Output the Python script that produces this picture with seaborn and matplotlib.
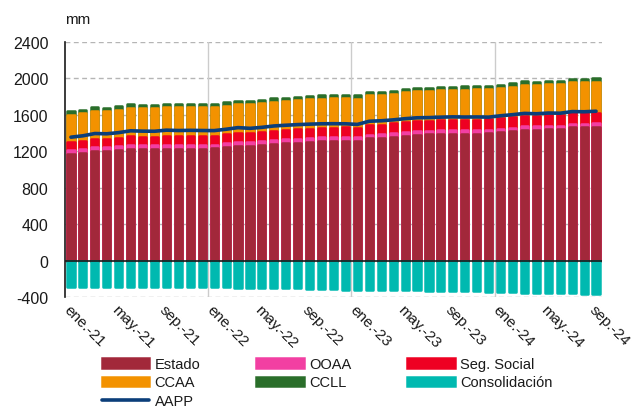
import numpy as np
import pandas as pd
import matplotlib
matplotlib.use("Agg")
import matplotlib.pyplot as plt
from matplotlib.patches import Patch
from matplotlib.lines import Line2D
import seaborn as sns

# ---------------- data (mm = miles de millones) ----------------
meses = ["ene.", "feb.", "mar.", "abr.", "may.", "jun.",
         "jul.", "ago.", "sep.", "oct.", "nov.", "dic."]
periodos = [f"{m}-{a}" for a in ["21", "22", "23"] for m in meses] + \
           [f"{m}-24" for m in meses[:9]]

estado = [1168, 1181, 1201, 1200, 1210, 1226, 1223, 1220, 1229, 1228, 1229, 1229,
          1231, 1244, 1260, 1255, 1266, 1279, 1288, 1294, 1299, 1309, 1312, 1317,
          1312, 1344, 1345, 1357, 1370, 1380, 1385, 1389, 1391, 1394, 1394, 1397,
          1411, 1423, 1436, 1437, 1444, 1442, 1464, 1463, 1468]
ooaa = [45] * 12 + [43] * 12 + [40] * 12 + [38] * 9
seg_social = [85, 86, 88, 89, 90, 92, 93, 93, 95, 96, 97, 97,
              97, 98, 99, 100, 101, 102, 103, 104, 104, 105, 106, 106,
              106, 107, 108, 109, 110, 110, 111, 111, 112, 112, 113, 113,
              113, 114, 115, 115, 116, 116, 117, 117, 118]
ccaa = [305, 306, 310, 308, 310, 315, 312, 314, 316, 313, 315, 312,
        312, 315, 318, 316, 318, 322, 320, 322, 324, 321, 322, 318,
        320, 322, 326, 325, 328, 330, 328, 330, 332, 330, 332, 330,
        332, 335, 340, 338, 340, 342, 340, 340, 342]
ccll = [38] * 12 + [36] * 12 + [36] * 12 + [38] * 9
consolidacion = [-286, -286, -287, -288, -288, -291, -290, -290, -291, -292, -294, -293,
                 -292, -294, -296, -298, -301, -304, -304, -306, -308, -312, -316, -318,
                 -319, -319, -320, -322, -326, -328, -330, -331, -333, -336, -338, -341,
                 -342, -346, -351, -354, -356, -358, -361, -362, -364]
aapp = [1355, 1370, 1395, 1392, 1405, 1425, 1421, 1420, 1432, 1428, 1430, 1428,
        1427, 1442, 1460, 1452, 1463, 1478, 1486, 1493, 1498, 1502, 1503, 1502,
        1495, 1530, 1535, 1545, 1558, 1568, 1570, 1575, 1578, 1576, 1577, 1575,
        1590, 1602, 1616, 1612, 1620, 1618, 1636, 1634, 1640]

yticks = [-400, 0, 400, 800, 1200, 1600, 2000, 2400]

colores = {
    "Estado": "#A2283A",
    "OOAA": "#F23FA2",
    "Seg. Social": "#EE0022",
    "CCAA": "#F39200",
    "CCLL": "#2A6E2A",
    "Consolidación": "#00B9B0",
    "AAPP": "#0B3E7A",
}

df = pd.DataFrame({
    "periodo": periodos,
    "Estado": estado,
    "OOAA": ooaa,
    "Seg. Social": seg_social,
    "CCAA": ccaa,
    "CCLL": ccll,
    "Consolidación": consolidacion,
    "AAPP": aapp,
})
df["pos"] = np.arange(len(df))
capas = ["Estado", "OOAA", "Seg. Social", "CCAA", "CCLL"]
cum = df[capas].cumsum(axis=1)

# ---------------- figure ----------------
sns.set_style("white")
plt.rcParams["font.family"] = ["Liberation Sans", "DejaVu Sans"]
fig = plt.figure(figsize=(6.32, 4.10), dpi=100)
ax = fig.add_axes([65 / 632, 1 - 298 / 410, (602 - 65) / 632, (298 - 43) / 410])

# grid lines
for y in yticks:
    if y == 0:
        continue
    ax.axhline(y, color="#b5b5b5", lw=1.0, ls=(0, (3.5, 2.5)), zorder=0)
for xv in [11.5, 23.5, 35.5]:
    ax.axvline(xv, color="#cccccc", lw=1.0, zorder=0)

EDGE = 1.8  # points, rounded joins give rounded bar corners

# stacked bars (cumulative, drawn top layer first)
for capa in reversed(capas):
    sns.barplot(x=df["periodo"], y=cum[capa], color=colores[capa], width=0.6,
                saturation=1, ax=ax, zorder=2, order=periodos)
sns.barplot(x=df["periodo"], y=df["Consolidación"], color=colores["Consolidación"],
            width=0.6, saturation=1, ax=ax, zorder=2, order=periodos)
for p in ax.patches:
    p.set_edgecolor(p.get_facecolor())
    p.set_linewidth(EDGE)
    p.set_joinstyle("round")

ax.axhline(0, color="#1a1a1a", lw=1.2, zorder=3)

sns.lineplot(x=df["pos"], y=df["AAPP"], color=colores["AAPP"], lw=2.6, ax=ax,
             zorder=4)

ax.set_xlim(-0.5, len(df) - 0.5)
ax.set_ylim(-400, 2400)
ax.set_yticks(yticks)
ax.set_yticklabels([str(v) for v in yticks], fontsize=11.5, color="#1a1a1a")
ax.set_xlabel("")
ax.set_ylabel("")

xt = list(range(0, len(df), 4))
ax.set_xticks(xt)
ax.set_xticklabels([periodos[i] for i in xt], rotation=-45, ha="left", va="top",
                   rotation_mode="anchor", fontsize=11, color="#1a1a1a")
ax.tick_params(axis="x", length=0, pad=4)
ax.tick_params(axis="y", direction="in", length=4, width=1, color="#1a1a1a", pad=12)

for s in ["top", "right", "bottom"]:
    ax.spines[s].set_visible(False)
ax.spines["left"].set_color("#1a1a1a")
ax.spines["left"].set_linewidth(1.2)

fig.text(65 / 632, 1 - 20 / 410, "mm", fontsize=11, ha="left", va="center",
         color="#1a1a1a")

# legend (column-major order to get row-wise layout)
h = {k: Patch(facecolor=colores[k], edgecolor=colores[k], linewidth=EDGE,
              joinstyle="round") for k in capas + ["Consolidación"]}
h["AAPP"] = Line2D([0], [0], color=colores["AAPP"], lw=2.6)
orden = ["Estado", "CCAA", "AAPP", "OOAA", "CCLL", "Seg. Social", "Consolidación"]
leg = fig.legend([h[k] for k in orden], orden, ncol=3, loc="upper left",
                 bbox_to_anchor=(102 / 632, 1 - 358 / 410), frameon=False,
                 handlelength=3.25, handleheight=0.62, handletextpad=0.35,
                 columnspacing=3.85, labelspacing=0.3, borderpad=0, borderaxespad=0,
                 prop={"size": 10.5})
for t in leg.get_texts():
    t.set_color("#1a1a1a")

fig.savefig("out.png", dpi=100)
